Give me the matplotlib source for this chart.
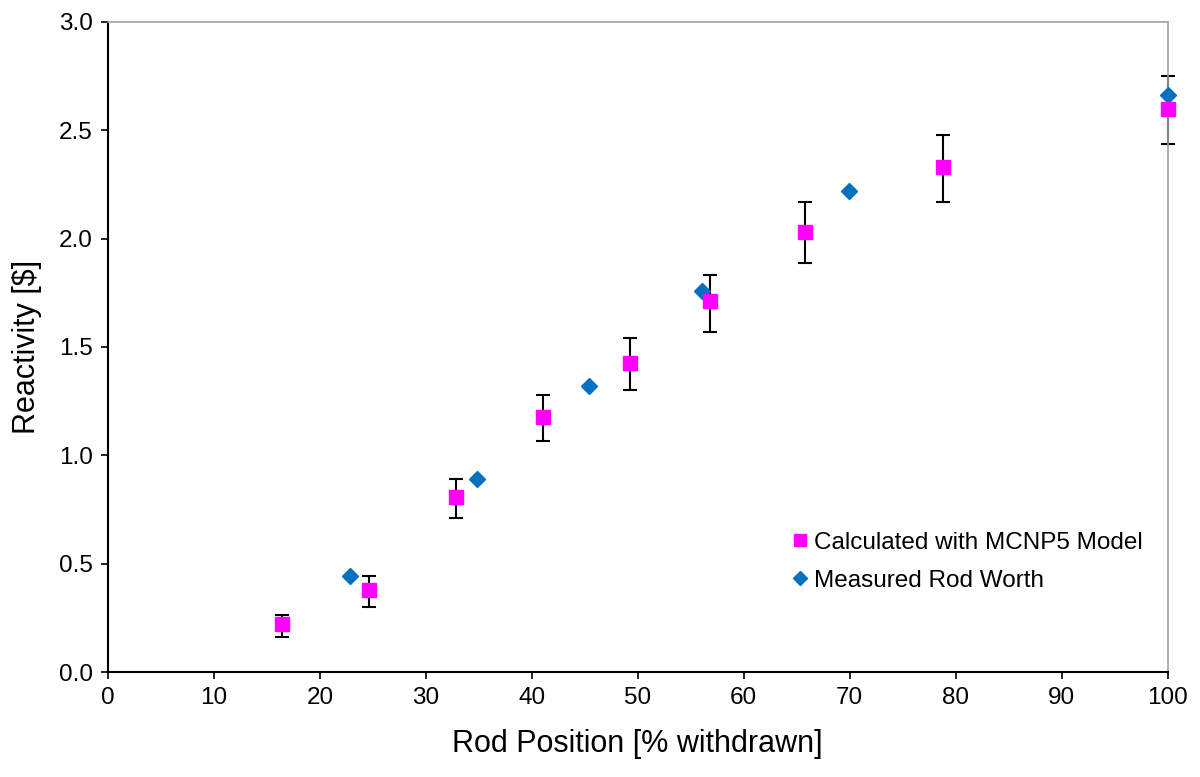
import numpy as np
import matplotlib
matplotlib.use('Agg')
import matplotlib.pyplot as plt

plt.rcParams['font.family'] = ['Liberation Sans', 'DejaVu Sans']

# Calculated with MCNP5 model
calc_x = [16.45, 24.65, 32.86, 41.1, 49.3, 56.85, 65.75, 78.8, 100.0]
calc_y = [0.22, 0.377, 0.806, 1.175, 1.427, 1.71, 2.03, 2.33, 2.597]
calc_hi = [0.263, 0.443, 0.892, 1.277, 1.54, 1.833, 2.17, 2.478, 2.75]
calc_lo = [0.163, 0.299, 0.712, 1.066, 1.30, 1.57, 1.886, 2.17, 2.435]

# Measured rod worth
meas_x = [22.83, 34.8, 45.4, 56.1, 69.97, 100.0]
meas_y = [0.443, 0.891, 1.32, 1.76, 2.22, 2.66]

fig = plt.figure(figsize=(12, 7.77), dpi=100)
ax = fig.add_axes([0.09, 0.135, 0.883, 0.837])

calc_y = np.array(calc_y)
yerr = [calc_y - np.array(calc_lo), np.array(calc_hi) - calc_y]

eb = ax.errorbar(calc_x, calc_y, yerr=yerr, fmt='none', ecolor='black',
                 elinewidth=1.5, capsize=5, capthick=1.5, zorder=2)
for art in eb.lines[1] + eb.lines[2]:
    art.set_clip_on(False)
ax.plot(meas_x, meas_y, 'D', color='#0070C0', markersize=8.5,
        linestyle='none', zorder=3, clip_on=False, label='Measured Rod Worth')
ax.plot(calc_x, calc_y, 's', color='#FF00FF', markersize=10,
        linestyle='none', zorder=4, clip_on=False,
        label='Calculated with MCNP5 Model')

ax.set_xlim(0, 100)
ax.set_ylim(0, 3.0)
ax.set_xticks(np.arange(0, 101, 10))
ax.set_yticks(np.arange(0, 3.01, 0.5))
ax.yaxis.set_major_formatter(matplotlib.ticker.FormatStrFormatter('%.1f'))
ax.tick_params(direction='out', length=5, width=1.2, labelsize=17.5, pad=6)

ax.set_xlabel('Rod Position [% withdrawn]', fontsize=22, labelpad=14)
ax.set_ylabel('Reactivity [\\$]', fontsize=22, labelpad=12)

for side in ['left', 'bottom']:
    ax.spines[side].set_color('black')
    ax.spines[side].set_linewidth(1.5)
for side in ['top', 'right']:
    ax.spines[side].set_color('#A0A0A0')
    ax.spines[side].set_linewidth(1.2)

handles, labels = ax.get_legend_handles_labels()
leg = ax.legend(handles[::-1], labels[::-1], loc='lower right',
                bbox_to_anchor=(0.997, 0.09), frameon=False, fontsize=17.5,
                handlelength=0.5, handletextpad=0.3, markerscale=0.8,
                labelspacing=0.65)

fig.savefig('out.png', dpi=100)
